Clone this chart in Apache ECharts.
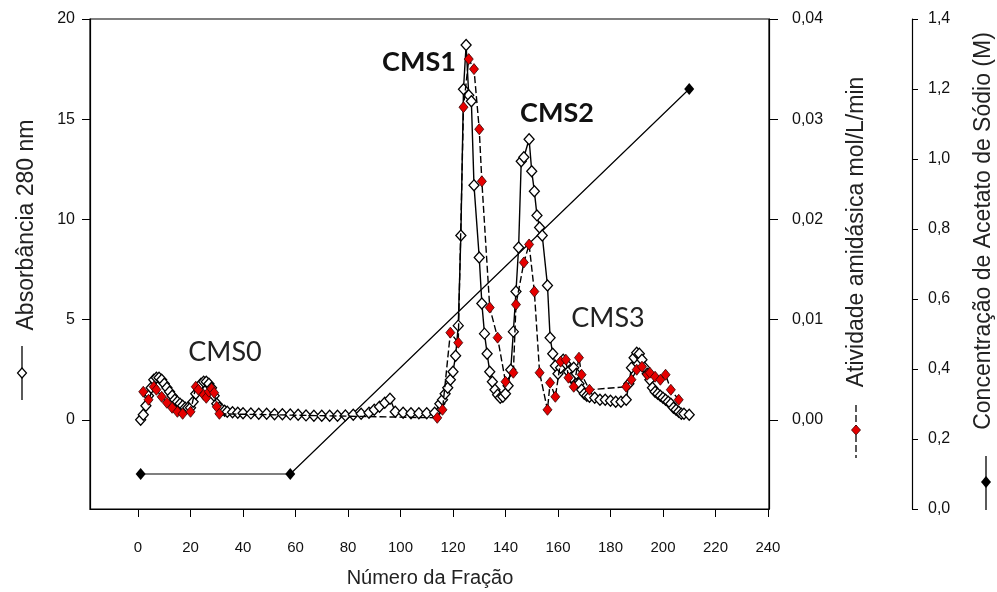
<!DOCTYPE html>
<html>
<head>
<meta charset="utf-8">
<script src="https://cdn.jsdelivr.net/npm/echarts@6/dist/echarts.min.js"></script>
<style>
    html, body { margin: 0; padding: 0; background: #fff; }
    #J_chartBox { width: 997px; height: 592px; }
</style>
</head>
<body>
<div id="J_chartBox"></div>
<script>
// absorbancia 280 nm (diamante aberto)
var fracAbs = [1, 2, 3, 4, 5, 6, 7, 8, 9, 10, 11, 12, 13, 14, 15, 16, 17, 18, 19, 20,
    21, 22, 23, 24, 25, 26, 27, 28, 29, 30, 31, 32, 33, 34, 36, 38, 40, 43, 46, 49,
    52, 55, 58, 61, 64, 67, 70, 73, 76, 79, 82, 85, 88, 90, 92, 94, 96, 98, 101, 104,
    107, 110, 113, 115, 116, 117, 118, 119, 120, 121, 122, 123, 124, 125, 126, 127, 128, 130, 131, 132,
    133, 134, 135, 136, 137, 138, 139, 140, 141, 142, 143, 144, 145, 146, 147, 149, 150, 151, 152, 153,
    154, 156, 157, 158, 159, 160, 161, 162, 163, 164, 165, 166, 167, 168, 169, 170, 171, 172, 174, 176,
    178, 180, 182, 184, 186, 187, 188, 189, 190, 191, 192, 193, 194, 195, 196, 197, 198, 199, 200, 201,
    202, 203, 204, 205, 206, 207, 208, 210]
var absorbance = [0.0, 0.25, 0.7, 1.2, 1.6, 2.0, 2.1, 2.1, 2.0, 1.8, 1.6, 1.4, 1.2, 1.0, 0.9, 0.8, 0.7, 0.6, 0.6, 0.6,
    0.9, 1.3, 1.6, 1.8, 1.9, 1.9, 1.8, 1.6, 1.2, 0.8, 0.6, 0.5, 0.45, 0.4, 0.38, 0.35, 0.33, 0.32, 0.3, 0.3,
    0.28, 0.28, 0.27, 0.25, 0.22, 0.2, 0.2, 0.2, 0.2, 0.22, 0.25, 0.3, 0.35, 0.5, 0.65, 0.85, 1.05, 0.4, 0.35, 0.33,
    0.33, 0.33, 0.35, 0.8, 1.0, 1.3, 1.6, 2.0, 2.4, 3.2, 4.7, 9.2, 16.5, 18.7, 16.2, 15.9, 11.7, 8.1, 5.8, 4.3,
    3.3, 2.4, 1.9, 1.5, 1.25, 1.1, 1.15, 1.3, 1.7, 2.5, 4.4, 6.4, 8.6, 12.9, 13.1, 14.0, 12.4, 11.4, 10.2, 9.6,
    9.2, 6.7, 4.1, 3.3, 2.7, 2.3, 2.6, 3.0, 2.8, 2.4, 2.1, 2.6, 2.3, 1.8, 1.5, 1.3, 1.2, 1.15, 1.1, 1.0,
    1.0, 0.95, 0.9, 0.9, 1.0, 1.8, 2.6, 3.1, 3.35, 3.3, 3.0, 2.6, 2.3, 2.0, 1.6, 1.4, 1.3, 1.2, 1.1, 1.0,
    0.9, 0.8, 0.6, 0.5, 0.4, 0.3, 0.3, 0.25]

// atividade amidasica mol/L/min (diamante vermelho)
var fracAct = [2, 4, 6, 7, 9, 11, 13, 15, 17, 20, 22, 23, 25, 26, 27, 28, 29, 30, 31,
    114, 116, 119, 122, 124, 126, 128, 130, 131, 134, 137, 140, 143, 144, 147, 149, 151, 153, 156, 157, 159,
    161, 163, 164, 166, 168, 169, 172,
    186, 188, 190, 192, 194, 195, 197, 199, 201, 203, 206]
var activity = [0.0028, 0.0020, 0.0033, 0.0030, 0.0023, 0.0017, 0.0012, 0.0008, 0.0006, 0.0008, 0.0033, 0.0030, 0.0025, 0.0022, 0.0028, 0.0031, 0.0027, 0.0013, 0.0006,
    0.0002, 0.0010, 0.0087, 0.0077, 0.0312, 0.0360, 0.0350, 0.0290, 0.0238, 0.0112, 0.0082, 0.0038, 0.0047, 0.0115, 0.0157, 0.0175, 0.0128, 0.0047, 0.0010, 0.0037, 0.0023,
    0.0058, 0.0060, 0.0042, 0.0033, 0.0062, 0.0045, 0.0030,
    0.0033, 0.0040, 0.0050, 0.0053, 0.0045, 0.0047, 0.0043, 0.0040, 0.0045, 0.0030, 0.0020]

// gradiente de acetato de sodio (M)
var fracNa = [1, 58, 210]
var sodium = [0.1, 0.1, 1.2]

var xTicks = [0, 20, 40, 60, 80, 100, 120, 140, 160, 180, 200, 220, 240]
var absTicks = [0, 5, 10, 15, 20]
var actTicks = [0, 0.01, 0.02, 0.03, 0.04]

function pairs(xs, ys) {
    var out = []
    for (var i = 0; i < xs.length; i++) {
        out.push([xs[i], ys[i]])
    }
    return out
}

var labelFont = 'Liberation Sans, Arial, sans-serif'
var axisLine = { show: true, onZero: false, lineStyle: { color: '#000', width: 1.2 } }

var option = {
    animation: false,
    backgroundColor: '#fff',
    grid: {
        left: 90, right: 228, top: 19, bottom: 83,
        show: true, borderColor: '#000', borderWidth: 1.2
    },
    xAxis: {
        type: 'value',
        min: -18.3,
        max: 240.4,
        axisLine: axisLine,
        splitLine: { show: false },
        axisTick: { customValues: xTicks, length: 8, lineStyle: { color: '#000' } },
        axisLabel: { customValues: xTicks, margin: 31, fontSize: 15, color: '#111', fontFamily: labelFont }
    },
    yAxis: [{
        type: 'value',
        position: 'left',
        min: -4.45,
        max: 20,
        axisLine: axisLine,
        splitLine: { show: false },
        axisTick: { customValues: absTicks, length: 8, lineStyle: { color: '#000' } },
        axisLabel: { customValues: absTicks, margin: 15, fontSize: 16, color: '#111', fontFamily: labelFont }
    }, {
        type: 'value',
        position: 'right',
        min: -0.0089,
        max: 0.04,
        axisLine: axisLine,
        splitLine: { show: false },
        axisTick: { customValues: actTicks, length: 9, lineStyle: { color: '#000' } },
        axisLabel: {
            customValues: actTicks, margin: 23, fontSize: 16, color: '#111', fontFamily: labelFont,
            formatter: function (v) { return v.toFixed(2).replace('.', ',') }
        }
    }, {
        type: 'value',
        position: 'right',
        offset: 143,
        min: 0,
        max: 1.4,
        interval: 0.2,
        axisLine: axisLine,
        splitLine: { show: false },
        axisTick: { length: 6, lineStyle: { color: '#000' } },
        axisLabel: {
            margin: 16, fontSize: 16, color: '#111', fontFamily: labelFont,
            formatter: function (v) { return v.toFixed(1).replace('.', ',') }
        }
    }],
    series: [{
        name: 'Concentração de Acetato de Sódio (M)',
        type: 'line',
        yAxisIndex: 2,
        data: pairs(fracNa, sodium),
        symbol: 'diamond',
        symbolSize: [10, 12],
        itemStyle: { color: '#000' },
        lineStyle: { color: '#000', width: 1.2 },
        z: 2
    }, {
        name: 'Absorbância 280 nm',
        type: 'line',
        yAxisIndex: 0,
        data: pairs(fracAbs, absorbance),
        symbol: 'diamond',
        symbolSize: [10, 11],
        showAllSymbol: true,
        itemStyle: { color: '#fff', borderColor: '#000', borderWidth: 1.3 },
        lineStyle: { color: '#000', width: 1.4 },
        z: 3
    }, {
        name: 'Atividade amidásica mol/L/min',
        type: 'line',
        yAxisIndex: 1,
        data: pairs(fracAct, activity),
        symbol: 'diamond',
        symbolSize: [9, 11],
        showAllSymbol: true,
        itemStyle: { color: '#e60000', borderColor: '#300', borderWidth: 0.8 },
        lineStyle: { color: '#000', width: 1.4, type: [7, 3] },
        z: 4
    }],
    graphic: [
        // titulos dos eixos
        { type: 'text', x: 430, y: 578, style: { text: 'Número da Fração', font: '20px ' + labelFont, fill: '#222', align: 'center', verticalAlign: 'middle' } },
        { type: 'text', x: 27, y: 225, rotation: Math.PI / 2, style: { text: 'Absorbância 280 nm', font: '23px ' + labelFont, fill: '#222', align: 'center', verticalAlign: 'middle' } },
        { type: 'text', x: 857, y: 232, rotation: Math.PI / 2, style: { text: 'Atividade amidásica mol/L/min', font: '23px ' + labelFont, fill: '#222', align: 'center', verticalAlign: 'middle' } },
        { type: 'text', x: 984, y: 231, rotation: Math.PI / 2, style: { text: 'Concentração de Acetato de Sódio (M)', font: '23px ' + labelFont, fill: '#222', align: 'center', verticalAlign: 'middle' } },
        // chaves das series ao lado dos titulos
        { type: 'line', shape: { x1: 22, y1: 346, x2: 22, y2: 400 }, style: { stroke: '#000', lineWidth: 1.3 } },
        { type: 'polygon', shape: { points: [[22, 368], [26.5, 373], [22, 378], [17.5, 373]] }, style: { fill: '#fff', stroke: '#000', lineWidth: 1.2 } },
        { type: 'line', shape: { x1: 856, y1: 405, x2: 856, y2: 458 }, style: { stroke: '#000', lineWidth: 1.3, lineDash: [7, 3] } },
        { type: 'polygon', shape: { points: [[856, 425], [860.5, 430], [856, 435], [851.5, 430]] }, style: { fill: '#e60000', stroke: '#300', lineWidth: 0.8 } },
        { type: 'line', shape: { x1: 986, y1: 456, x2: 986, y2: 510 }, style: { stroke: '#000', lineWidth: 1.3 } },
        { type: 'polygon', shape: { points: [[986, 476], [991, 482], [986, 488], [981, 482]] }, style: { fill: '#000' } },
        // picos
        { type: 'text', x: 419, y: 62, style: { text: 'CMS1', font: 'bold 27px Lato, sans-serif', fill: '#111', align: 'center', verticalAlign: 'middle' } },
        { type: 'text', x: 557, y: 113, style: { text: 'CMS2', font: 'bold 27px Lato, sans-serif', fill: '#111', align: 'center', verticalAlign: 'middle' } },
        { type: 'text', x: 608, y: 318, style: { text: 'CMS3', font: '27px Lato, sans-serif', fill: '#222', align: 'center', verticalAlign: 'middle' } },
        { type: 'text', x: 225, y: 352, style: { text: 'CMS0', font: '27px Lato, sans-serif', fill: '#222', align: 'center', verticalAlign: 'middle' } }
    ]
}

var chart = echarts.init(document.getElementById('J_chartBox'))
chart.setOption(option)
window.addEventListener('resize', function () {
    chart.resize()
})
</script>
</body>
</html>
